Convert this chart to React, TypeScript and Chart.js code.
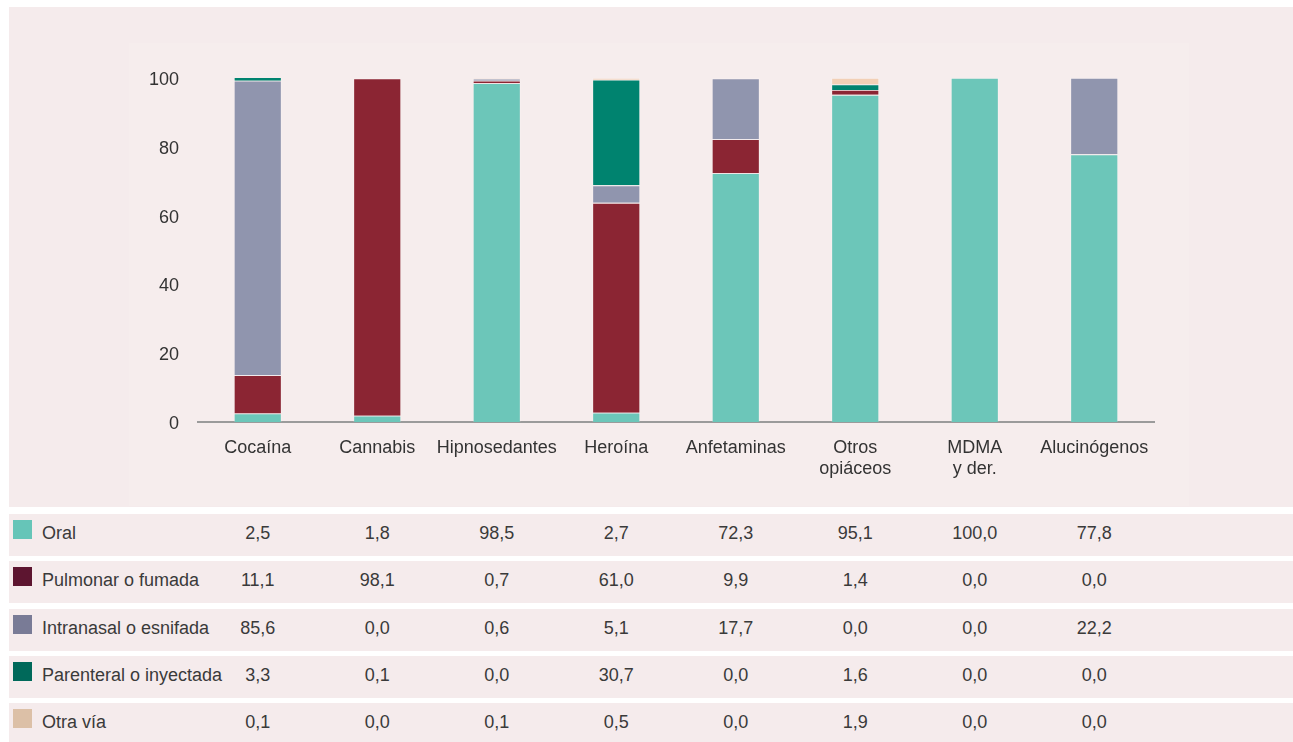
import React, { useEffect, useRef } from "react";
import { Chart, registerables } from "chart.js";

Chart.register(...registerables);

const categories: (string | string[])[] = [
  "Cocaína",
  "Cannabis",
  "Hipnosedantes",
  "Heroína",
  "Anfetaminas",
  ["Otros", "opiáceos"],
  ["MDMA", "y der."],
  "Alucinógenos",
];

const seriesNames = [
  "Oral",
  "Pulmonar o fumada",
  "Intranasal o esnifada",
  "Parenteral o inyectada",
  "Otra vía",
];

const oral = [2.5, 1.8, 98.5, 2.7, 72.3, 95.1, 100.0, 77.8];
const pulmonar = [11.1, 98.1, 0.7, 61.0, 9.9, 1.4, 0.0, 0.0];
const intranasal = [85.6, 0.0, 0.6, 5.1, 17.7, 0.0, 0.0, 22.2];
const parenteral = [3.3, 0.1, 0.0, 30.7, 0.0, 1.6, 0.0, 0.0];
const otraVia = [0.1, 0.0, 0.1, 0.5, 0.0, 1.9, 0.0, 0.0];

const yTicks = [0, 20, 40, 60, 80, 100];

const seriesValues = [oral, pulmonar, intranasal, parenteral, otraVia];
const barColors = ["#6cc6b9", "#8b2533", "#9095ae", "#00836f", "#f2d0b6"];
const legendColors = ["#66c5b8", "#5d1530", "#797b96", "#00695a", "#dcc0a7"];

const FONT = "'Liberation Sans', Arial, Helvetica, sans-serif";
const PANEL = "#f5ebec";
const TEXT = "#333333";

export default function App() {
  const canvasRef = useRef<HTMLCanvasElement | null>(null);

  useEffect(() => {
    const canvas = canvasRef.current;
    if (!canvas) return;
    const chart = new Chart(canvas, {
      type: "bar",
      data: {
        labels: categories as any,
        datasets: seriesNames.map((name, i) => ({
          label: name,
          data: seriesValues[i],
          backgroundColor: barColors[i],
          borderColor: "rgba(255,255,255,0.25)",
          borderWidth: 0.8,
          barPercentage: 0.4,
          categoryPercentage: 1,
        })),
      },
      options: {
        responsive: false,
        animation: false,
        events: [],
        layout: { padding: { left: 0, right: 138, top: 71, bottom: 0 } },
        plugins: {
          legend: { display: false },
          tooltip: { enabled: false },
          title: { display: false },
        },
        scales: {
          x: {
            stacked: true,
            grid: { display: false, drawTicks: false },
            border: { display: true, color: "#9b9b9b", width: 2 },
            ticks: {
              color: TEXT,
              padding: 15,
              maxRotation: 0,
              autoSkip: false,
              font: { family: FONT, size: 18 },
            },
            afterFit: (s: any) => {
              s.height = 84;
            },
          },
          y: {
            stacked: true,
            min: 0,
            max: 100,
            grid: { display: false, drawTicks: false },
            border: { display: false },
            afterBuildTicks: (s: any) => {
              s.ticks = yTicks.map((v) => ({ value: v }));
            },
            ticks: {
              color: TEXT,
              padding: 19,
              labelOffset: 2,
              font: { family: FONT, size: 18 },
            },
            afterFit: (s: any) => {
              s.width = 189;
            },
          },
        },
      },
    });
    return () => chart.destroy();
  }, []);

  const fmt = (v: number) => v.toFixed(1).replace(".", ",");
  const colW = 119.5;
  const colStart = 198;

  return (
    <div
      style={{
        position: "fixed",
        left: 0,
        top: 0,
        width: 1293,
        height: 742,
        background: "#ffffff",
        overflow: "hidden",
        fontFamily: FONT,
      }}
    >
      <div
        style={{
          position: "absolute",
          left: 9,
          top: 7,
          width: 1284,
          height: 500,
          background: PANEL,
        }}
      />
      <div
        style={{
          position: "absolute",
          left: 129,
          top: 43,
          width: 1060,
          height: 463,
          background: "#f6eded",
        }}
      />
      <canvas
        ref={canvasRef}
        width={1283}
        height={499}
        style={{ position: "absolute", left: 9, top: 7, width: 1283, height: 499 }}
      />
      {seriesNames.map((name, r) => {
        const top = 514 + r * 47.25;
        return (
          <div
            key={name}
            style={{
              position: "absolute",
              left: 9,
              top,
              width: 1284,
              height: 42,
              background: PANEL,
            }}
          >
            <div
              style={{
                position: "absolute",
                left: 4,
                top: 6,
                width: 19,
                height: 19,
                background: legendColors[r],
              }}
            />
            <div
              style={{
                position: "absolute",
                left: 33,
                top: 0,
                height: 38,
                lineHeight: "38px",
                fontSize: 18,
                color: "#3a3a3a",
                whiteSpace: "nowrap",
              }}
            >
              {name}
            </div>
            {seriesValues[r].map((v, c) => (
              <div
                key={c}
                style={{
                  position: "absolute",
                  left: colStart + colW * (c + 0.5) - 9 - 50,
                  width: 100,
                  top: 0,
                  height: 38,
                  lineHeight: "38px",
                  fontSize: 18,
                  color: "#3a3a3a",
                  textAlign: "center",
                }}
              >
                {fmt(v)}
              </div>
            ))}
          </div>
        );
      })}
    </div>
  );
}
